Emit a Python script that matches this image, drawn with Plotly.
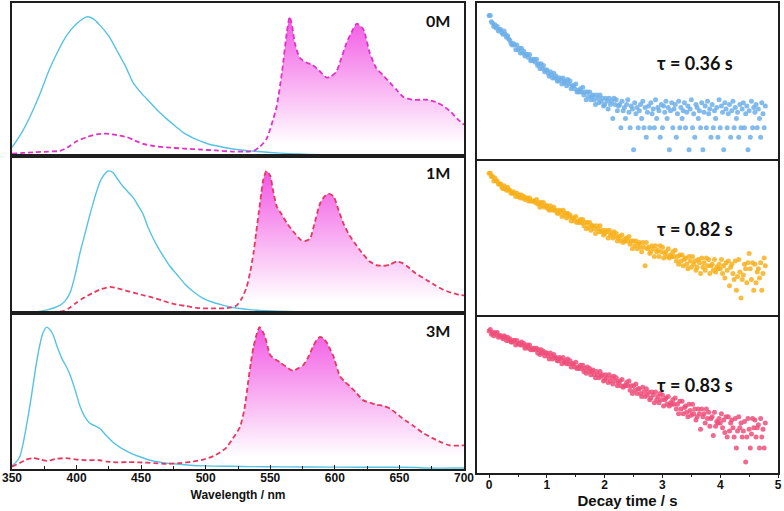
import plotly.graph_objects as go

# ---------------- Left: emission spectra (normalised intensity) ----------------
wl_0M_fluo = [350, 358, 366.5, 372, 379, 385, 392, 400, 408, 413, 418, 425, 431, 438, 444, 450, 457, 463, 470,
              477, 483, 490, 496, 502, 508, 520, 534, 550, 565, 580, 600, 650, 700]
int_0M_fluo = [0.055, 0.17, 0.33, 0.45, 0.62, 0.74, 0.86, 0.95, 1.0, 0.985, 0.94, 0.86, 0.76, 0.64, 0.52, 0.45, 0.38,
               0.32, 0.26, 0.205, 0.16, 0.125, 0.10, 0.08, 0.067, 0.045, 0.03, 0.018, 0.01, 0.005, 0.0, 0.0, 0.0]

wl_0M_phos = [350, 358, 366.6, 378, 387, 394, 400, 408, 415.6, 423, 431, 439, 445, 451.6, 460, 470, 483, 495.6, 508,
              521, 530, 537, 542, 547, 551, 555, 559, 562.7, 565, 567, 569, 573, 578, 583, 588, 593.7, 597, 601, 605,
              609, 613, 617, 622, 627, 632, 637, 643, 648, 653, 660, 671, 678, 684, 690, 695, 700]
int_0M_phos = [0.01, 0.015, 0.02, 0.025, 0.03, 0.06, 0.10, 0.13, 0.15, 0.155, 0.145, 0.13, 0.105, 0.08, 0.065, 0.055,
               0.047, 0.04, 0.033, 0.025, 0.025, 0.03, 0.06, 0.115, 0.22, 0.355, 0.595, 0.88, 1.0, 0.93, 0.81, 0.70,
               0.67, 0.65, 0.61, 0.56, 0.57, 0.60, 0.70, 0.81, 0.89, 0.95, 0.91, 0.74, 0.63, 0.58, 0.52, 0.47, 0.42,
               0.40, 0.40, 0.385, 0.355, 0.31, 0.26, 0.22]

wl_1M_fluo = [350, 360, 369, 378, 387, 391, 395, 399, 402.6, 406, 410, 414, 418, 421, 424.6, 428, 432, 436, 440, 444,
              448, 451.7, 455, 459, 463, 467, 472, 477.5, 484, 490, 498, 506, 514, 521, 534, 547, 570, 591, 620, 700]
int_1M_fluo = [0.0, 0.002, 0.005, 0.02, 0.05, 0.08, 0.14, 0.27, 0.42, 0.54, 0.68, 0.81, 0.92, 0.97, 1.0, 0.99, 0.94,
               0.89, 0.85, 0.81, 0.75, 0.69, 0.61, 0.53, 0.46, 0.40, 0.33, 0.27, 0.20, 0.15, 0.10, 0.07, 0.05, 0.035,
               0.02, 0.012, 0.006, 0.003, 0.001, 0.0]

wl_1M_phos = [350, 370, 389.6, 395, 400, 405, 412, 419, 426, 432, 438, 444, 450, 457, 466, 475, 485, 495.6, 506, 516,
              520, 524, 528, 531.7, 534.5, 537, 539, 541, 543, 544.6, 547, 550, 552, 555, 559, 563, 568, 574, 577,
              580.7, 584, 588.5, 592, 595, 599, 603, 606.6, 611, 617, 622, 627, 632, 637.5, 643, 648, 652, 655.6,
              662, 671, 678, 684, 690, 694, 700]
int_1M_phos = [0.0, 0.0, 0.01, 0.035, 0.07, 0.10, 0.135, 0.165, 0.18, 0.17, 0.155, 0.14, 0.125, 0.11, 0.085, 0.06,
               0.045, 0.03, 0.028, 0.03, 0.035, 0.05, 0.10, 0.18, 0.29, 0.42, 0.56, 0.70, 0.84, 0.94, 1.0, 0.965,
               0.87, 0.75, 0.69, 0.63, 0.57, 0.51, 0.505, 0.52, 0.62, 0.77, 0.82, 0.84, 0.82, 0.72, 0.63, 0.55, 0.47,
               0.41, 0.36, 0.335, 0.33, 0.34, 0.36, 0.35, 0.33, 0.28, 0.23, 0.19, 0.16, 0.14, 0.13, 0.12]

wl_3M_fluo = [350, 353, 356, 358.5, 361, 364, 366.5, 369, 371.7, 374, 377, 379.5, 382, 385, 388.5, 392, 395, 399,
              402.6, 406, 410, 414, 418, 423, 428, 434, 441, 449, 457, 466, 475, 488, 500.8, 520, 534, 560, 600, 640,
              663, 670, 700]
int_3M_fluo = [0.017, 0.04, 0.08, 0.17, 0.29, 0.45, 0.60, 0.75, 0.88, 0.96, 1.0, 0.98, 0.94, 0.86, 0.78, 0.72, 0.66,
               0.55, 0.44, 0.37, 0.32, 0.30, 0.28, 0.23, 0.185, 0.145, 0.11, 0.08, 0.055, 0.04, 0.03, 0.02, 0.015,
               0.012, 0.01, 0.008, 0.006, 0.005, 0.004, 0.0, 0.0]

wl_3M_phos = [350, 356, 361, 366.5, 372, 377, 384, 392, 400, 407.5, 418, 424, 431, 440, 449, 460, 470, 480, 490, 498,
              506, 511, 516, 521, 526.5, 530, 533, 535, 537, 539.5, 541.6, 544, 546, 548, 550, 554, 557.5, 562,
              567.8, 572, 575.5, 579, 583, 586, 588.5, 591, 593.7, 597, 599, 604, 608, 611.7, 617, 622, 627, 632,
              638, 643, 650, 655, 660.7, 668, 676, 683, 689, 698, 700]
int_3M_phos = [0.01, 0.035, 0.06, 0.07, 0.06, 0.05, 0.065, 0.07, 0.06, 0.055, 0.055, 0.045, 0.04, 0.042, 0.04, 0.035,
               0.03, 0.035, 0.045, 0.06, 0.085, 0.11, 0.145, 0.21, 0.29, 0.42, 0.62, 0.75, 0.86, 0.95, 1.0, 0.97,
               0.93, 0.86, 0.80, 0.77, 0.75, 0.72, 0.69, 0.71, 0.73, 0.78, 0.86, 0.91, 0.93, 0.92, 0.89, 0.83, 0.79,
               0.65, 0.61, 0.58, 0.53, 0.48, 0.465, 0.45, 0.44, 0.42, 0.37, 0.335, 0.30, 0.25, 0.21, 0.18, 0.16, 0.16,
               0.16]

conc_labels = ["0M", "1M", "3M"]
fill_start_nm = [540, 524, 516]

wl_ticks = [350, 400, 450, 500, 550, 600, 650, 700]

# ---------------- Right: phosphorescence decay (log-intensity, % of panel height) ----------------
decay_step_s = 0.02
decay_0M = [92, 92, 88, 87, 85, 86, 84, 85, 82, 83,
            83, 81, 80, 82, 80, 78, 79, 77, 76, 74,
            73, 74, 73, 70, 73, 70, 71, 68, 71, 68,
            69, 66, 67, 67, 65, 67, 63, 64, 63, 64,
            62, 64, 60, 61, 58, 61, 58, 60, 56, 57,
            57, 55, 53, 56, 54, 52, 55, 52, 53, 50,
            50, 52, 51, 48, 52, 49, 50, 47, 51, 48,
            50, 45, 47, 47, 45, 48, 43, 44, 43, 45,
            43, 46, 41, 43, 38, 43, 40, 43, 38, 40,
            41, 38, 35, 41, 39, 36, 41, 37, 39, 34,
            35, 39, 37, 32, 39, 35, 37, 26, 39, 35,
            38, 31, 34, 35, 20, 37, 31, 33, 26, 35,
            38, 30, 20, 34, 32, 6, 36, 29, 33, 20,
            31, 35, 26, 37, 20, 33, 14, 30, 34, 20,
            36, 29, 32, 20, 38, 26, 33, 31, 14, 35,
            20, 34, 30, 37, 26, 33, 6, 31, 36, 20,
            32, 35, 14, 29, 37, 20, 33, 26, 31, 36,
            20, 30, 34, 6, 32, 38, 20, 29, 14, 35,
            33, 26, 31, 20, 36, 6, 30, 34, 20, 37,
            29, 32, 14, 35, 20, 31, 26, 33, 14, 38,
            20, 34, 30, 6, 36, 32, 20, 29, 35, 14,
            31, 37, 20, 33, 26, 30, 14, 35, 20, 32,
            36, 20, 29, 34, 6, 31, 14, 37, 20, 33,
            30, 35, 20, 32, 26, 14, 36, 29, 20, 34]
decay_1M = [92, 92, 90, 90, 87, 89, 87, 87, 85, 85,
            85, 83, 82, 84, 82, 81, 83, 81, 81, 79,
            79, 80, 79, 77, 79, 77, 78, 76, 78, 76,
            77, 75, 76, 76, 74, 76, 74, 74, 74, 74,
            73, 75, 72, 73, 70, 73, 71, 73, 70, 71,
            71, 69, 68, 71, 69, 68, 70, 68, 68, 66,
            66, 68, 67, 64, 68, 65, 66, 63, 66, 64,
            65, 61, 63, 63, 61, 64, 60, 61, 60, 62,
            60, 62, 58, 60, 56, 60, 57, 60, 55, 58,
            58, 56, 53, 58, 56, 54, 58, 54, 55, 52,
            53, 55, 54, 50, 55, 52, 53, 50, 54, 51,
            53, 48, 50, 51, 48, 52, 47, 49, 48, 50,
            48, 51, 46, 48, 43, 48, 45, 48, 43, 46,
            47, 44, 41, 47, 44, 32, 47, 43, 44, 40,
            41, 45, 43, 38, 45, 41, 42, 38, 45, 41,
            44, 37, 40, 41, 38, 43, 37, 39, 38, 41,
            38, 42, 35, 38, 33, 39, 35, 39, 32, 36,
            37, 33, 30, 38, 35, 31, 38, 33, 35, 29,
            31, 36, 34, 27, 37, 31, 34, 29, 37, 32,
            36, 27, 32, 33, 29, 36, 28, 31, 30, 33,
            30, 36, 27, 32, 24, 34, 29, 35, 19, 31,
            33, 27, 23, 35, 16, 25, 36, 28, 11, 23,
            26, 33, 30, 21, 34, 40, 30, 23, 34, 16,
            33, 21, 28, 30, 24, 34, 16, 27, 37, 32]
decay_3M = [91, 92, 89, 90, 88, 90, 89, 90, 87, 88,
            88, 87, 86, 88, 87, 85, 87, 85, 86, 84,
            84, 85, 85, 82, 85, 83, 83, 82, 84, 82,
            83, 80, 81, 82, 80, 82, 79, 80, 79, 80,
            79, 80, 77, 79, 76, 79, 77, 78, 75, 77,
            77, 75, 73, 77, 75, 73, 76, 74, 74, 72,
            72, 74, 73, 70, 74, 71, 72, 70, 73, 70,
            72, 68, 70, 70, 68, 71, 67, 68, 67, 69,
            67, 69, 65, 67, 64, 68, 65, 67, 63, 65,
            66, 63, 61, 65, 63, 61, 65, 62, 63, 59,
            60, 63, 61, 58, 63, 59, 61, 57, 62, 59,
            61, 56, 58, 59, 56, 60, 55, 56, 56, 58,
            56, 59, 53, 56, 51, 56, 53, 57, 51, 54,
            54, 51, 49, 55, 52, 49, 54, 50, 52, 47,
            48, 52, 50, 45, 52, 47, 49, 45, 51, 47,
            50, 43, 47, 48, 44, 49, 43, 45, 44, 47,
            44, 48, 41, 44, 38, 46, 41, 46, 38, 42,
            43, 39, 36, 44, 40, 37, 44, 38, 41, 34,
            36, 41, 38, 28, 41, 36, 38, 32, 41, 35,
            39, 30, 35, 36, 24, 39, 30, 33, 32, 35,
            32, 38, 29, 34, 26, 36, 23, 36, 27, 32,
            34, 29, 23, 35, 16, 27, 36, 29, 32, 23,
            27, 33, 7, 23, 35, 28, 16, 25, 35, 29,
            34, 23, 29, 31, 16, 35, 23, 28, 16, 32]
tau_labels = ["τ = 0.36 s", "τ = 0.82 s", "τ = 0.83 s"]
time_ticks = [0, 1, 2, 3, 4, 5]

# ---------------- styling ----------------
CYAN = "#55C3E4"
DASH_COLORS = ["#E032C8", "#E8385F", "#E8385F"]
FILL_TOP = "#F257E4"
DOT_COLORS = ["#6DAFE9", "#F8B01C", "#EE4F7A"]
AXC = "#1E1E1E"
TXT = "#111111"

left_x = [12 / 784, 464 / 784]
left_y = [[1 - 156 / 511, 1 - 3 / 511], [1 - 313 / 511, 1 - 156 / 511], [1 - 469 / 511, 1 - 313 / 511]]
left_yr = [[-0.007, 1.10], [-0.004, 1.106], [-0.007, 1.10]]
right_x = [477 / 784, 778 / 784]
right_y = [[1 - 159 / 511, 1 - 3 / 511], [1 - 315 / 511, 1 - 161 / 511], [1 - 473 / 511, 1 - 317 / 511]]

fluo = [(wl_0M_fluo, int_0M_fluo), (wl_1M_fluo, int_1M_fluo), (wl_3M_fluo, int_3M_fluo)]
phos = [(wl_0M_phos, int_0M_phos), (wl_1M_phos, int_1M_phos), (wl_3M_phos, int_3M_phos)]
decays = [decay_0M, decay_1M, decay_3M]

fig = go.Figure()
layout = dict(width=784, height=511, margin=dict(l=0, r=0, t=0, b=0, autoexpand=False),
              paper_bgcolor="white", plot_bgcolor="white", showlegend=False)

label_y = [0.97, 0.99, 0.977]
tau_y = [61.7, 55.7, 56.7]
bold_font = dict(family="Liberation Sans", size=12, color=TXT, weight="bold")

for i in range(3):
    xa = "x" if i == 0 else f"x{i + 1}"
    ya = "y" if i == 0 else f"y{i + 1}"
    wl_p, it_p = phos[i]
    # gradient fill under the phosphorescence band
    fx = [w for w in wl_p if w >= fill_start_nm[i]]
    fy = [v for w, v in zip(wl_p, it_p) if w >= fill_start_nm[i]]
    fig.add_trace(go.Scatter(x=fx, y=fy, xaxis=xa, yaxis=ya, mode="lines",
                             line=dict(width=0, shape="spline", smoothing=0.6),
                             fill="tozeroy",
                             fillgradient=dict(type="vertical",
                                               colorscale=[[0, "rgba(255,255,255,1)"], [1, FILL_TOP]],
                                               start=0.08, stop=1.0),
                             hoverinfo="skip"))
    wl_f, it_f = fluo[i]
    fig.add_trace(go.Scatter(x=wl_f, y=it_f, xaxis=xa, yaxis=ya, mode="lines",
                             line=dict(color=CYAN, width=1.4, shape="spline", smoothing=0.8)))
    fig.add_trace(go.Scatter(x=wl_p, y=it_p, xaxis=xa, yaxis=ya, mode="lines",
                             line=dict(color=DASH_COLORS[i], width=1.8, dash="5px,3px",
                                       shape="spline", smoothing=0.6)))
    bottom = (i == 2)
    xax = dict(domain=left_x, anchor=ya, range=[350, 700], showgrid=False, zeroline=False, automargin=False,
               showline=True, mirror=True, linewidth=1.6, linecolor=AXC,
               showticklabels=bottom, ticks="inside" if bottom else "",
               tickvals=wl_ticks if bottom else None, ticklen=4, tickcolor=AXC, tickfont=bold_font)
    if bottom:
        xax["minor"] = dict(ticks="inside", ticklen=3, tick0=375, dtick=50, tickcolor=AXC)
        xax["ticklabelstandoff"] = -3
        xax["title"] = dict(text="Wavelength / nm", standoff=6, font=bold_font)
    yax = dict(domain=left_y[i], anchor=xa, range=left_yr[i], showgrid=False, zeroline=False, automargin=False,
               showline=True, mirror=True, linewidth=1.6, linecolor=AXC, showticklabels=False, ticks="")
    layout["xaxis" if i == 0 else f"xaxis{i + 1}"] = xax
    layout["yaxis" if i == 0 else f"yaxis{i + 1}"] = yax
    fig.add_annotation(x=691, y=label_y[i], xref=xa, yref=ya, text=f"<b>{conc_labels[i]}</b>",
                       showarrow=False, xanchor="right", yanchor="middle",
                       font=dict(family="Lato", size=16, color=TXT))

for i in range(3):
    k = i + 4
    xa, ya = f"x{k}", f"y{k}"
    d = decays[i]
    t = [j * decay_step_s for j in range(len(d))]
    fig.add_trace(go.Scatter(x=t, y=d, xaxis=xa, yaxis=ya, mode="markers",
                             marker=dict(size=5, color=DOT_COLORS[i], opacity=0.85, line=dict(width=0))))
    bottom = (i == 2)
    xax = dict(domain=right_x, anchor=ya, range=[-0.21, 5.0], showgrid=False, zeroline=False, automargin=False,
               showline=True, mirror=True, linewidth=1.6, linecolor=AXC,
               showticklabels=bottom, ticks="outside" if bottom else "",
               tickvals=time_ticks if bottom else None, ticklen=3, tickcolor=AXC, tickfont=bold_font)
    if bottom:
        xax["minor"] = dict(ticks="outside", ticklen=2, tick0=0.5, dtick=1, tickcolor=AXC)
        xax["ticklabelstandoff"] = -3
        xax["title"] = dict(text="Decay time / s", standoff=3,
                            font=dict(family="Liberation Sans", size=15, color=TXT, weight="bold"))
    yax = dict(domain=right_y[i], anchor=xa, range=[0, 100], showgrid=False, zeroline=False, automargin=False,
               showline=True, mirror=True, linewidth=1.6, linecolor=AXC, showticklabels=False, ticks="")
    layout[f"xaxis{k}"] = xax
    layout[f"yaxis{k}"] = yax
    fig.add_annotation(x=3.56, y=tau_y[i], xref=xa, yref=ya, text=f"<b>{tau_labels[i]}</b>",
                       showarrow=False, xanchor="center", yanchor="middle",
                       font=dict(family="Lato", size=18, color=TXT))

fig.update_layout(**layout)
fig.write_html("out.html", config={"displayModeBar": False},
               post_script="document.body.style.margin='0';document.body.style.padding='0';"
                           "document.documentElement.style.overflow='hidden';")
